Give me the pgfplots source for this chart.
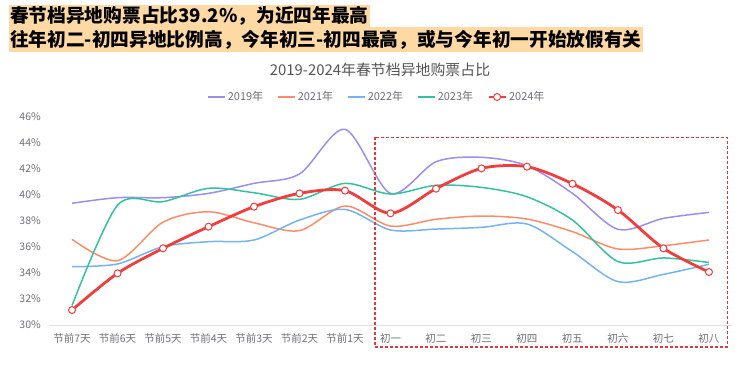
\documentclass[border=0pt]{standalone}
\usepackage{fontspec}
\setmainfont{Noto Sans CJK SC}
\usepackage{pgfplots}
\pgfplotsset{compat=1.18}
\usepackage{pgfplotstable}
\definecolor{c19}{HTML}{9D8DF1}
\definecolor{c21}{HTML}{FF8C69}
\definecolor{c22}{HTML}{74B3F2}
\definecolor{c23}{HTML}{33C2A0}
\definecolor{c24}{HTML}{F23D3D}
\definecolor{rbox}{HTML}{E0393B}
\definecolor{hl}{HTML}{FFD9A3}
\definecolor{lbl}{HTML}{6E7079}
\definecolor{ttl}{HTML}{555555}
\pgfplotstableread{
x y19 y21 y22 y23 y24
0 39.35 36.58 34.48 31.50 31.15
1 39.78 34.94 34.69 39.20 33.97
2 39.78 37.90 36.02 39.47 35.89
3 40.11 38.70 36.40 40.50 37.55
4 40.88 37.85 36.53 40.16 39.09
5 41.60 37.25 38.06 39.65 40.11
6 45.03 39.14 38.88 40.88 40.32
7 40.11 37.60 37.30 40.06 38.58
8 42.54 38.12 37.37 40.73 40.47
9 42.88 38.37 37.50 40.57 42.03
10 42.24 38.14 37.76 39.85 42.16
11 40.11 37.17 35.63 38.06 40.85
12 37.35 35.84 33.33 34.87 38.83
13 38.19 36.09 33.89 35.15 35.89
14 38.65 36.53 34.66 34.80 34.07
}\datatable
\begin{document}
\begin{tikzpicture}
\useasboundingbox (0pt,0pt) rectangle (750pt,386pt);
% headline
\node[anchor=north west, fill=hl, inner xsep=1pt, inner ysep=0pt, minimum height=22pt, font=\fontsize{18.7}{20}\selectfont\bfseries] at (9pt,381pt) {春节档异地购票占比39.2\%，为近四年最高};
\node[anchor=north west, fill=hl, inner xsep=1pt, inner ysep=0pt, minimum height=25pt, font=\fontsize{18.7}{20}\selectfont\bfseries] at (9pt,359pt) {往年初二-初四异地比例高，今年初三-初四最高，或与今年初一开始放假有关};
% title
\node[font=\fontsize{14.9}{16}\selectfont, text=ttl] at (380pt,316pt) {2019-2024年春节档异地购票占比};
\begin{axis}[
  at={(49.3pt,61pt)}, anchor=south west,
  scale only axis, width=682.4pt, height=208.3pt,
  xmin=-0.5, xmax=14.5, ymin=30, ymax=46,
  xtick={0,...,14},
  xticklabels={节前7天,节前6天,节前5天,节前4天,节前3天,节前2天,节前1天,初一,初二,初三,初四,初五,初六,初七,初八},
  ytick={30,32,...,46},
  yticklabel={\pgfmathprintnumber{\tick}\%},
  /pgf/number format/assume math mode=true,
  axis lines*=left,
  y axis line style={draw=none},
  x axis line style={draw=black!12, line width=1pt},
  major tick length=0pt,
  tick label style={font=\fontsize{10.5}{12}\selectfont, text=lbl},
  xticklabel style={yshift=-5pt},
  yticklabel style={xshift=-5pt},
  clip=false,
  legend columns=5,
  legend style={at={(0.48,1.0946)}, anchor=center, draw=none, fill=none,
    font=\fontsize{11}{12}\selectfont, text=lbl,
    /tikz/every even column/.append style={column sep=12pt}},
  legend cell align=left,
]
\addplot[c19, line width=1.5pt, smooth, tension=0.5] table[x=x,y=y19]{\datatable};
\addlegendentry{2019年}
\addplot[c21, line width=1.5pt, smooth, tension=0.5] table[x=x,y=y21]{\datatable};
\addlegendentry{2021年}
\addplot[c22, line width=1.5pt, smooth, tension=0.5] table[x=x,y=y22]{\datatable};
\addlegendentry{2022年}
\addplot[c23, line width=1.5pt, smooth, tension=0.5] table[x=x,y=y23]{\datatable};
\addlegendentry{2023年}
\addplot[c24, line width=2.8pt, smooth, tension=0.5, mark=*, mark size=3.5pt, mark options={fill=white, draw=c24, line width=1pt}] table[x=x,y=y24]{\datatable};
\addlegendentry{2024年}
\coordinate (r1) at (axis cs:6.66,44.42);
\coordinate (r2) at (axis cs:14.4,28.31);
\end{axis}
\draw[color=rbox, line width=1.1pt, dash pattern=on 3pt off 2pt] (r1) rectangle (r2);
\end{tikzpicture}
\end{document}
